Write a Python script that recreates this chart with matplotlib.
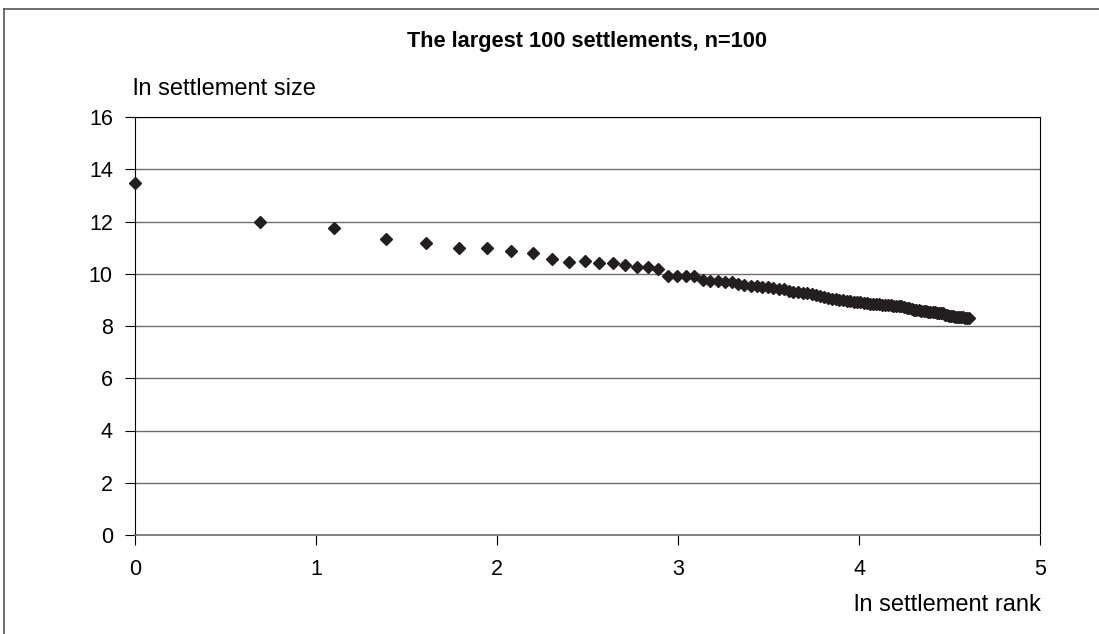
import numpy as np
import matplotlib.pyplot as plt
from matplotlib.lines import Line2D

plt.rcParams['font.family'] = ['Liberation Sans', 'DejaVu Sans']

# ranks 1..100, plotted as ln(rank)
ranks = list(range(1, 101))

# ln settlement size
ln_size = [
    13.48, 12.00, 11.74, 11.34, 11.19, 10.97, 10.97, 10.88, 10.80, 10.55,
    10.46, 10.48, 10.40, 10.40, 10.33, 10.25, 10.25, 10.18, 9.92, 9.92,
    9.92, 9.90, 9.75, 9.72, 9.72, 9.70, 9.68, 9.60, 9.58, 9.55,
    9.52, 9.50, 9.48, 9.45, 9.42, 9.40, 9.35, 9.32, 9.30, 9.28,
    9.25, 9.22, 9.20, 9.15, 9.10, 9.08, 9.05, 9.03, 9.00, 8.98,
    8.96, 8.95, 8.93, 8.92, 8.90, 8.88, 8.87, 8.86, 8.85, 8.84,
    8.83, 8.82, 8.81, 8.80, 8.79, 8.78, 8.77, 8.76, 8.75, 8.74,
    8.70, 8.67, 8.65, 8.63, 8.61, 8.60, 8.58, 8.57, 8.56, 8.55,
    8.54, 8.53, 8.52, 8.51, 8.50, 8.49, 8.48, 8.44, 8.42, 8.40,
    8.38, 8.37, 8.36, 8.35, 8.34, 8.34, 8.33, 8.32, 8.31, 8.30,
]

x_ticks = [0, 1, 2, 3, 4, 5]
y_ticks = [0, 2, 4, 6, 8, 10, 12, 14, 16]

fig = plt.figure(figsize=(10.99, 6.34), dpi=100)
ax = fig.add_axes([135 / 1099, 1 - 535 / 634, 905 / 1099, 418 / 634])

ax.plot(np.log(ranks), ln_size, linestyle='none', marker='D',
        markersize=6.5, color='#231f20', clip_on=False, zorder=3)

ax.set_xlim(0, 5)
ax.set_ylim(0, 16)
ax.set_xticks(x_ticks)
ax.set_yticks(y_ticks)
ax.tick_params(axis='both', labelsize=15.5, length=7, width=0.8, color='black')
ax.tick_params(axis='x', pad=10)
ax.tick_params(axis='y', pad=9)
ax.yaxis.grid(True, color='#6e6e6e', linewidth=1.0)
ax.set_axisbelow(True)
for side in ['left', 'right', 'top']:
    ax.spines[side].set_color('black')
    ax.spines[side].set_linewidth(0.8)
ax.spines['bottom'].set_color('#6e6e6e')
ax.spines['bottom'].set_linewidth(1.2)

fig.text(587 / 1099, 1 - 42 / 634, 'The largest 100 settlements, n=100',
         ha='center', va='center', fontsize=15.7, fontweight='bold')
fig.text(133 / 1099, 1 - 89 / 634, 'ln settlement size', ha='left', va='center', fontsize=17)
fig.text(1041 / 1099, 1 - 605 / 634, 'ln settlement rank', ha='right', va='center', fontsize=17)

# outer chart frame
fig.add_artist(Line2D([4 / 1099, 4 / 1099], [0, 1 - 9 / 634], color='#555555', linewidth=1.2))
fig.add_artist(Line2D([4 / 1099, 1], [1 - 9 / 634, 1 - 9 / 634], color='#555555', linewidth=1.2))

fig.savefig('out.png', dpi=100)
